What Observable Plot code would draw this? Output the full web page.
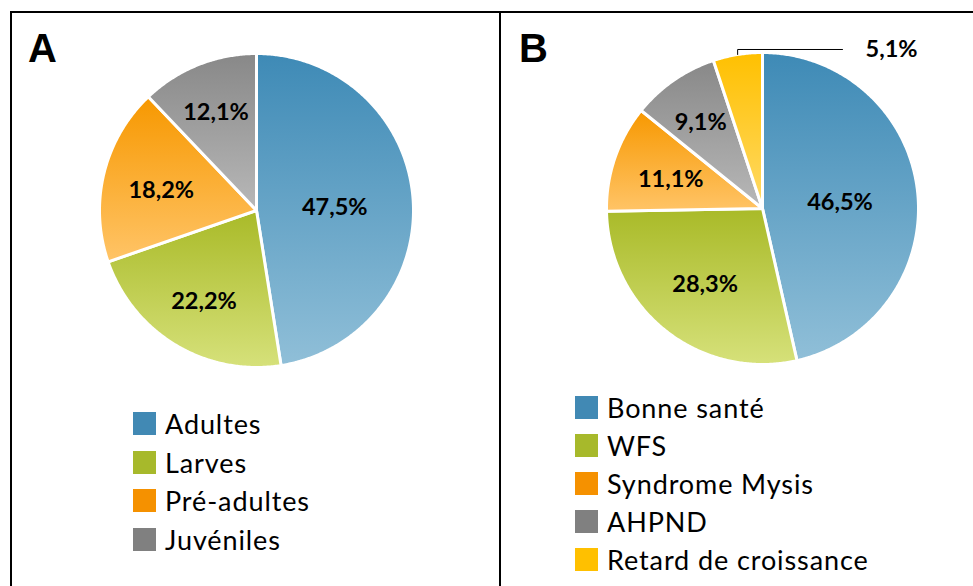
<!DOCTYPE html>
<html><head><meta charset="utf-8">
<script src="https://cdn.jsdelivr.net/npm/d3@7"></script>
<script src="https://cdn.jsdelivr.net/npm/@observablehq/plot@0.6"></script>
<style>
html,body{margin:0;padding:0;background:#fff;overflow:hidden;width:973px;height:586px}
#frame{position:absolute;left:10px;top:11px;border-top:2px solid #000;border-left:2px solid #000;width:1000px;height:600px;display:flex}
.panel{position:relative;height:600px}
#pA{width:487px;border-right:2px solid #000}
#pB{width:500px}
.panel svg{position:absolute;left:0;top:0}
.title{position:absolute;font-family:"Liberation Sans",Arial,sans-serif;font-weight:bold;font-size:40px;line-height:40px;color:#000}
.legend{position:absolute;font-family:Lato,sans-serif;font-size:27px;letter-spacing:0.9px;color:#000}
.row{display:flex;align-items:center}
.sw{width:23px;height:23px;margin-right:9px;flex:none}
</style></head>
<body>
<div id="frame">
  <div class="panel" id="pA"><div class="title" style="left:16px;top:15px">A</div></div>
  <div class="panel" id="pB"><div class="title" style="left:18px;top:15px">B</div></div>
</div>
<script>
// ---- data ----
const catsA = ["Adultes", "Larves", "Pré-adultes", "Juvéniles"];
const valsA = [47.5, 22.2, 18.2, 12.1];
const catsB = ["Bonne santé", "WFS", "Syndrome Mysis", "AHPND", "Retard de croissance"];
const valsB = [46.5, 28.3, 11.1, 9.1, 5.1];

// ---- palette ----
const swatchA = ["#4189b4", "#a7b92b", "#f59100", "#808080"];
const topA    = ["#3e8ab6", "#a9ba28", "#f79800", "#888888"];
const botA    = ["#90bfd8", "#d6e17a", "#ffc467", "#b8b8b8"];
const swatchB = ["#4189b4", "#a7b92b", "#f59100", "#808080", "#ffc000"];
const topB    = ["#3e8ab6", "#a9ba28", "#f79800", "#888888", "#ffc000"];
const botB    = ["#90bfd8", "#d6e17a", "#ffc467", "#b8b8b8", "#ffda66"];

const FS = 23.5;
const fmt = v => d3.format(".1f")(v).replace(".", ",") + "%";
const ctx = document.createElement("canvas").getContext("2d");
ctx.font = `bold ${FS}px Lato, sans-serif`;

// best-fit label distance: as far out as the text box fits, capped for large slices
function labelDist(share, mid, text, r) {
  const cap = Math.max(0.5, Math.min(0.8, 0.85 - 0.9 * share)) * r;
  const hw = ctx.measureText(text).width / 2, hh = 8;
  const sx = Math.sin(mid), sy = -Math.cos(mid);
  let d = 0;
  for (let t = 0; t <= r; t += 0.5) {
    const x = Math.abs(sx * t) + hw, y = Math.abs(sy * t) + hh;
    if (Math.hypot(x, y) > 0.84 * r) break;
    d = t;
  }
  return Math.min(cap, d);
}

function pie(panelId, id, cats, vals, tops, bots, swatches, cx, cy, r, legendLeft, legendTop, rowH) {
  const W = 487, H = 573;
  const arcs = d3.pie().sort(null).value(d => d)(vals);
  const total = d3.sum(vals);
  const pts = [], labels = [], leaders = [];
  arcs.forEach((a, i) => {
    const f = `url(#${id}g${i})`;
    pts.push({k: i, x: cx, y: cy, f});
    const n = Math.max(2, Math.ceil((a.endAngle - a.startAngle) / (Math.PI / 360)));
    for (let j = 0; j <= n; j++) {
      const t = a.startAngle + (a.endAngle - a.startAngle) * j / n;
      pts.push({k: i, x: cx + r * Math.sin(t), y: cy - r * Math.cos(t), f});
    }
    pts.push({k: i, x: cx, y: cy, f});
    const share = a.value / total;
    const mid = (a.startAngle + a.endAngle) / 2;
    const txt = fmt(a.value);
    if (share >= 0.07) {
      const d = labelDist(share, mid, txt, r);
      labels.push({x: cx + d * Math.sin(mid), y: cy - d * Math.cos(mid) + 3, t: txt, a: "middle"});
    } else {
      const px = cx + r * Math.sin(mid), py = cy - r * Math.cos(mid);
      const ey = py - 5;
      leaders.push({x: px, y: py}, {x: px, y: ey}, {x: cx + 80, y: ey});
      labels.push({x: cx + 103, y: ey, t: txt, a: "start"});
    }
  });
  const svg = Plot.plot({
    width: W, height: H, margin: 0,
    x: {domain: [0, W], range: [0, W], axis: null},
    y: {domain: [0, H], range: [0, H], axis: null},
    color: {type: "identity"},
    style: {fontFamily: "Lato, sans-serif", background: "transparent", overflow: "visible"},
    marks: [
      Plot.line(pts, {x: "x", y: "y", z: "k", fill: "f", stroke: "white", strokeWidth: 3, strokeLinejoin: "round", curve: "linear"}),
      Plot.line(leaders, {x: "x", y: "y", stroke: "black", strokeWidth: 1}),
      Plot.text(labels.filter(d => d.a === "middle"), {x: "x", y: "y", text: "t", fontSize: FS, fontWeight: "bold", fill: "black"}),
      Plot.text(labels.filter(d => d.a === "start"), {x: "x", y: "y", text: "t", fontSize: FS, fontWeight: "bold", fill: "black", textAnchor: "start"})
    ]
  });
  const defs = d3.select(svg).insert("defs", ":first-child");
  vals.forEach((v, i) => {
    const g = defs.append("linearGradient").attr("id", `${id}g${i}`).attr("x1", 0).attr("y1", 0).attr("x2", 0).attr("y2", 1);
    g.append("stop").attr("offset", "0%").attr("stop-color", tops[i]);
    g.append("stop").attr("offset", "100%").attr("stop-color", bots[i]);
  });
  const panel = document.getElementById(panelId);
  panel.insertBefore(svg, panel.firstChild);
  const lg = document.createElement("div");
  lg.className = "legend";
  lg.style.left = legendLeft + "px";
  lg.style.top = legendTop + "px";
  cats.forEach((c, i) => {
    const row = document.createElement("div");
    row.className = "row";
    row.style.height = rowH + "px";
    const sw = document.createElement("div");
    sw.className = "sw";
    sw.style.background = swatches[i];
    const tx = document.createElement("span");
    tx.textContent = c;
    row.appendChild(sw); row.appendChild(tx);
    lg.appendChild(row);
  });
  panel.appendChild(lg);
}

pie("pA", "a", catsA, valsA, topA, botA, swatchA, 244, 197, 157, 121, 391, 38.7);
pie("pB", "b", catsB, valsB, topB, botB, swatchB, 261, 195, 156, 74, 375, 38);
</script>
</body></html>
